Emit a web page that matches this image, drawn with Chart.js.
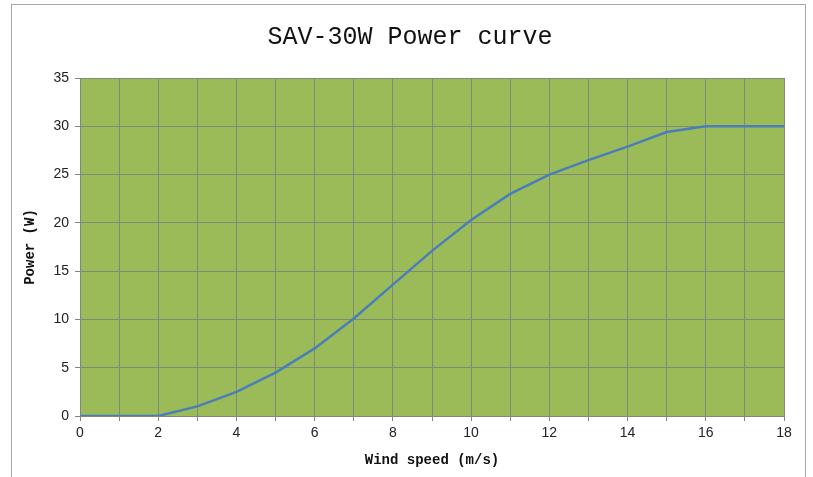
<!DOCTYPE html>
<html>
<head>
<meta charset="utf-8">
<script src="https://cdn.jsdelivr.net/npm/chart.js@4/dist/chart.umd.min.js"></script>
<style>
  html, body { margin: 0; padding: 0; background: #fff; }
  #wrap { width: 813px; height: 477px; position: relative; }
</style>
</head>
<body>
<div id="wrap"><canvas id="myChart" width="813" height="477"></canvas></div>
<script>
// dati
const windSpeed = [0, 1, 2, 3, 4, 5, 6, 7, 8, 9, 10, 11, 12, 13, 14, 15, 16, 17, 18];
const power = [0, 0, 0, 1.0, 2.5, 4.5, 7.0, 10.1, 13.6, 17.1, 20.3, 23.0, 25.0, 26.5, 27.9, 29.4, 30, 30, 30];
const titleText = 'SAV-30W Power curve';
const xTitle = 'Wind speed (m/s)';
const yTitle = 'Power (W)';

const gridColor = '#7f8a78';

// sfondo verde dell'area del grafico + cornice esterna
const plotBg = {
  id: 'plotBg',
  beforeDraw(chart) {
    const c = chart.ctx;
    const a = chart.chartArea;
    c.save();
    c.strokeStyle = '#a8a8a8';
    c.lineWidth = 1;
    c.strokeRect(11.5, 4.5, 794, 500);
    c.fillStyle = '#9bbb59';
    c.fillRect(a.left, a.top, a.right - a.left, a.bottom - a.top);
    c.restore();
  }
};

const ctx = document.getElementById('myChart').getContext('2d');
const myChart = new Chart(ctx, {
  type: 'line',
  data: {
    datasets: [{
      data: windSpeed.map((x, i) => ({ x: x, y: power[i] })),
      borderColor: '#4a7ebb',
      borderWidth: 2.5,
      pointRadius: 0,
      tension: 0,
      fill: false
    }]
  },
  options: {
    responsive: false,
    animation: false,
    // padding sinistro per centrare il titolo come nell'originale
    layout: { padding: { left: 36, right: 29, top: 0, bottom: 0 } },
    plugins: {
      legend: { display: false },
      tooltip: { enabled: false },
      title: {
        display: true,
        text: titleText,
        color: '#111',
        font: { family: 'Liberation Mono', size: 25, weight: 'normal', lineHeight: 1.2 },
        padding: { top: 22, bottom: 26 }
      }
    },
    scales: {
      x: {
        type: 'linear',
        min: 0,
        max: 18,
        afterFit(scale) { scale.height = 61; },
        ticks: {
          stepSize: 1,
          autoSkip: false,
          maxRotation: 0,
          padding: 4,
          color: '#222',
          font: { family: 'Liberation Sans', size: 14 },
          callback: v => (v % 2 === 0 ? v : '')
        },
        grid: { color: gridColor, tickLength: 5, lineWidth: 1 },
        border: { color: gridColor },
        title: {
          display: true,
          text: xTitle,
          color: '#111',
          font: { family: 'Liberation Mono', size: 14, weight: 'bold', lineHeight: 1.2 },
          padding: { top: 0, bottom: 8 }
        }
      },
      y: {
        min: 0,
        max: 35,
        afterFit(scale) { scale.width = 44; },
        ticks: {
          stepSize: 5,
          padding: 6,
          color: '#222',
          font: { family: 'Liberation Sans', size: 14 }
        },
        grid: { color: gridColor, tickLength: 5, lineWidth: 1 },
        border: { color: gridColor },
        title: {
          display: true,
          text: yTitle,
          color: '#111',
          font: { family: 'Liberation Mono', size: 14, weight: 'bold', lineHeight: 1.2 },
          padding: { top: -14.4, bottom: 0 }
        }
      }
    }
  },
  plugins: [plotBg]
});
</script>
</body>
</html>
